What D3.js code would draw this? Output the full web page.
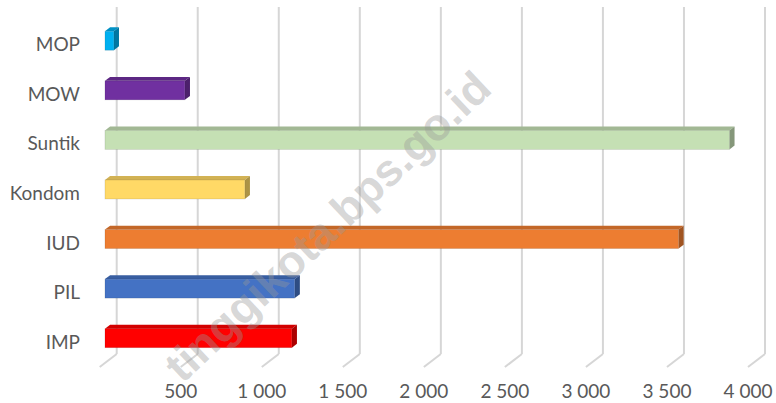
<!DOCTYPE html>
<html>
<head>
<meta charset="utf-8">
<script src="https://cdn.jsdelivr.net/npm/d3@7"></script>
<style>
  body { margin: 0; background: #fff; }
  svg { display: block; font-family: Lato, "Open Sans", sans-serif; }
</style>
</head>
<body>
<svg id="chart" width="776" height="403"></svg>
<script>
// data
var categories = ['MOP', 'MOW', 'Suntik', 'Kondom', 'IUD', 'PIL', 'IMP'];
var values = [55, 493, 3853, 863, 3539, 1171, 1153];
var colors = ['#00B0F0', '#7030A0', '#C5E0B4', '#FFD966', '#ED7D31', '#4472C4', '#FF0000'];
var ticks = [0, 500, 1000, 1500, 2000, 2500, 3000, 3500, 4000];

var svg = d3.select('#chart');

// back wall scales, plus a depth vector for the pseudo 3D floor
var x = d3.scaleLinear().domain([0, 4000]).range([116.7, 765]);
var y = d3.scaleBand().domain(categories).range([7, 354]);
var depth = { dx: -17, dy: 13 };
var barFront = 0.69, barBack = 0.39, barH = 19;

var fmt = d3.formatLocale({ decimal: ',', thousands: ' ', grouping: [3], currency: ['', ''] }).format(',d');

function pt(px, py, d) { return [px + depth.dx * d, py + depth.dy * d]; }

// gridlines on back wall and floor
var grid = svg.append('g');
grid.selectAll('line.v').data(ticks).enter().append('line')
    .attr('x1', d => x(d)).attr('x2', d => x(d))
    .attr('y1', 7).attr('y2', 354)
    .attr('stroke', '#d6d6d6').attr('stroke-width', 2);
grid.selectAll('line.f').data(ticks).enter().append('line')
    .attr('x1', d => x(d)).attr('y1', 354)
    .attr('x2', d => x(d) + depth.dx).attr('y2', 354 + depth.dy)
    .attr('stroke', '#d6d6d6').attr('stroke-width', 2);

// value labels at the front edge of the floor
svg.append('g').selectAll('text').data(ticks.filter(d => d > 0)).enter().append('text')
    .attr('x', d => x(d) + depth.dx)
    .attr('y', 398)
    .attr('text-anchor', 'middle')
    .attr('fill', '#595959')
    .style('font-size', '19px')
    .text(d => fmt(d));

// category labels
svg.append('g').selectAll('text').data(categories).enter().append('text')
    .attr('x', 80)
    .attr('y', d => y(d) + y.bandwidth() / 2 + depth.dy + 6.5)
    .attr('text-anchor', 'end')
    .attr('fill', '#595959')
    .style('font-size', '19px')
    .text(d => d);

// bars
var bars = svg.append('g').selectAll('g').data(categories.map((c, i) => ({ c: c, v: values[i], col: colors[i] })))
    .enter().append('g');

function poly(ps) { return ps.map(p => p.join(',')).join(' '); }

bars.each(function (d) {
    var g = d3.select(this);
    var cy = y(d.c) + y.bandwidth() / 2;
    var x0 = x(0), x1 = x(d.v);
    var t = cy - barH / 2, b = cy + barH / 2;
    var col = d3.color(d.col);
    // top face
    g.append('polygon')
        .attr('points', poly([pt(x0, t, barFront), pt(x1, t, barFront), pt(x1, t, barBack), pt(x0, t, barBack)]))
        .attr('fill', col.darker(0.55));
    // side face
    g.append('polygon')
        .attr('points', poly([pt(x1, t, barFront), pt(x1, t, barBack), pt(x1, b, barBack), pt(x1, b, barFront)]))
        .attr('fill', col.darker(1.1));
    // front face
    var f0 = pt(x0, t, barFront);
    g.append('rect')
        .attr('x', f0[0]).attr('y', f0[1])
        .attr('width', x1 - x0).attr('height', barH)
        .attr('fill', d.col)
        .attr('stroke', 'rgba(0,0,0,0.12)').attr('stroke-width', 0.8);
});

// watermark
svg.append('text')
    .attr('transform', 'translate(330,229) rotate(-43.3)')
    .attr('text-anchor', 'middle')
    .attr('dominant-baseline', 'middle')
    .attr('fill', '#999')
    .attr('fill-opacity', 0.4)
    .style('font-family', '"Liberation Sans", Arial, sans-serif')
    .style('font-weight', 'bold')
    .style('font-size', '45px')
    .text('tinggikota.bps.go.id');
</script>
</body>
</html>
